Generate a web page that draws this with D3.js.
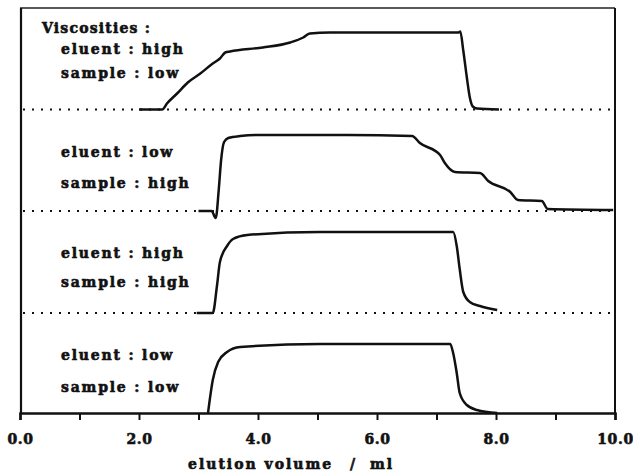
<!DOCTYPE html>
<html>
<head>
<meta charset="utf-8">
<script src="https://cdn.jsdelivr.net/npm/d3@7"></script>
<style>
  html, body { margin: 0; padding: 0; background: #fff; }
  svg text { font-family: "DejaVu Serif", "Liberation Serif", serif; font-weight: bold; fill: #111; stroke: #111; stroke-width: 0.6; }
</style>
</head>
<body>
<svg id="chart" width="633" height="474"></svg>
<script>
// Elution profiles for four eluent/sample viscosity combinations
const tickValues = [0, 1, 2, 3, 4, 5, 6, 7, 8, 9, 10];
const tickLabels = ["0.0", "", "2.0", "", "4.0", "", "6.0", "", "8.0", "", "10.0"];

// eluent high / sample low
const hlVolume = [2.0, 2.39, 2.47, 2.64, 2.82, 3.03, 3.24, 3.36, 3.45, 3.53, 4.08, 4.54, 4.76, 4.87, 5.21, 6.5, 7.37, 7.40, 7.45, 7.51, 7.56, 7.61, 7.68, 8.05];
const hlSignal = [0, 0, 6, 16, 27, 36, 46, 51, 57, 58, 62, 67, 72, 76, 77, 77, 77, 78, 59, 32, 12, 3, 1, 0];

// eluent low / sample high
const lhVolume = [3.0, 3.22, 3.29, 3.34, 3.38, 3.43, 3.50, 3.70, 4.03, 5.5, 6.59, 6.72, 7.06, 7.14, 7.31, 7.73, 7.87, 8.24, 8.37, 8.77, 8.87, 9.97];
const lhSignal = [0, 0, -7, 21, 51, 69, 73, 75, 76, 76, 75, 68, 56, 48, 39, 38, 30, 19, 11, 10, 2, 1];

// eluent high / sample high
const hhVolume = [2.97, 3.24, 3.31, 3.36, 3.48, 3.58, 3.82, 5.04, 6.5, 7.28, 7.34, 7.39, 7.45, 7.56, 7.73, 8.02];
const hhSignal = [0, 0, 27, 51, 67, 74, 78, 81, 81, 81, 67, 44, 21, 11, 7, 3];

// eluent low / sample low
const llVolume = [3.16, 3.24, 3.33, 3.48, 3.70, 5.04, 6.5, 7.23, 7.28, 7.34, 7.39, 7.51, 7.68, 8.02];
const llSignal = [0, 33, 51, 61, 66, 69, 69, 69, 60, 40, 20, 8, 3, 0];

const panelLabels = [
  ["eluent : high", "sample : low"],
  ["eluent : low", "sample : high"],
  ["eluent : high", "sample : high"],
  ["eluent : low", "sample : low"]
];

const svg = d3.select("#chart");
const frameLeft = 20, frameRight = 615, frameTop = 8, frameBottom = 413;
const baselines = [109.5, 211, 313, frameBottom];

const x = d3.scaleLinear().domain([0, 10]).range([frameLeft, frameRight]);

const panels = [
  { vol: hlVolume, sig: hlSignal },
  { vol: lhVolume, sig: lhSignal },
  { vol: hhVolume, sig: hhSignal },
  { vol: llVolume, sig: llSignal }
];

// frame: top, left, right
svg.append("line").attr("x1", frameLeft).attr("x2", frameRight).attr("y1", frameTop).attr("y2", frameTop)
  .attr("stroke", "#222").attr("stroke-width", 1.4);
svg.append("line").attr("x1", frameLeft + 1).attr("x2", frameLeft + 1).attr("y1", frameTop).attr("y2", frameBottom)
  .attr("stroke", "#111").attr("stroke-width", 2.2);
svg.append("line").attr("x1", frameRight).attr("x2", frameRight).attr("y1", frameTop).attr("y2", frameBottom)
  .attr("stroke", "#111").attr("stroke-width", 2);

// dotted baselines between panels
baselines.slice(0, 3).forEach(b => {
  svg.append("line").attr("x1", frameLeft + 3).attr("x2", frameRight).attr("y1", b).attr("y2", b)
    .attr("stroke", "#111").attr("stroke-width", 2).attr("stroke-dasharray", "2,7");
});

// x axis
const axis = d3.axisBottom(x).tickValues(tickValues)
  .tickFormat((d, i) => tickLabels[i]).tickSize(7).tickPadding(14);
const gx = svg.append("g").attr("transform", `translate(0,${frameBottom})`).call(axis);
gx.select(".domain").attr("stroke", "#111").attr("stroke-width", 2.5);
gx.selectAll(".tick line").attr("stroke", "#111").attr("stroke-width", 2);
gx.selectAll(".tick text").attr("font-size", 14).attr("fill", "#111")
  .attr("stroke", "#111").attr("stroke-width", 0.6)
  .style("letter-spacing", "0.6px")
  .style("font-family", "'DejaVu Serif', serif").style("font-weight", "bold");

// curves
panels.forEach((p, i) => {
  const y = d3.scaleLinear().domain([0, 100]).range([baselines[i], baselines[i] - 100]);
  const line = d3.line().x(d => x(d[0])).y(d => y(d[1])).curve(d3.curveMonotoneX);
  svg.append("path").datum(p.vol.map((v, k) => [v, p.sig[k]]))
    .attr("d", line).attr("fill", "none").attr("stroke", "#111")
    .attr("stroke-width", 2.5).attr("stroke-linejoin", "round");
});

// panel labels
svg.append("text").attr("x", 42).attr("y", 33).attr("font-size", 14)
  .style("letter-spacing", "1.2px").text("Viscosities :");
const labelY = [[54, 78], [157, 188], [258, 287], [360, 392]];
panelLabels.forEach((pair, i) => {
  pair.forEach((t, k) => {
    svg.append("text").attr("x", 61).attr("y", labelY[i][k]).attr("font-size", 14)
      .style("letter-spacing", "1.8px").text(t);
  });
});

// axis title
const title = svg.append("text").attr("y", 469).attr("font-size", 14).style("letter-spacing", "2px");
title.append("tspan").attr("x", 188).text("elution volume");
title.append("tspan").attr("x", 350).text("/");
title.append("tspan").attr("x", 370).text("ml");
</script>
</body>
</html>
